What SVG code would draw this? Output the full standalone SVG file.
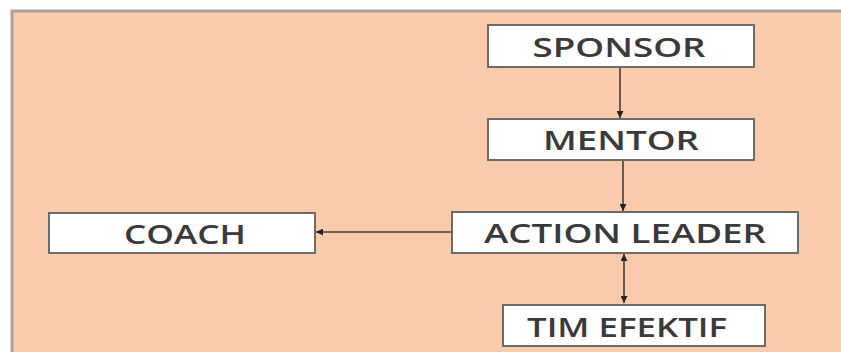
<svg xmlns="http://www.w3.org/2000/svg" width="841" height="352" viewBox="0 0 841 352">
  <style>
    .box { fill: #ffffff; stroke: #6e6a68; stroke-width: 2; }
    .label { font-family: "Open Sans", "Liberation Sans", sans-serif; font-weight: 600; font-size: 27px; fill: #3a3a3c; text-anchor: middle; dominant-baseline: central; }
    .link { stroke: #4a3a34; stroke-width: 1.6; fill: none; }
  </style>
  <defs>
    <marker id="head" viewBox="0 0 10 10" refX="10" refY="5" markerWidth="7" markerHeight="7" markerUnits="userSpaceOnUse" orient="auto-start-reverse">
      <path d="M0,0 L10,5 L0,10 Z" fill="#2a2220"/>
    </marker>
  </defs>

  <!-- panel -->
  <rect x="0" y="0" width="841" height="352" fill="#ffffff"/>
  <rect x="12" y="11" width="835" height="346" fill="#f7cbac" stroke="#a8a29f" stroke-width="3"/>

  <g id="connectors">
    <line class="link" x1="620" y1="67" x2="620" y2="118" marker-end="url(#head)"/>
    <line class="link" x1="623" y1="160" x2="623" y2="211" marker-end="url(#head)"/>
    <line class="link" x1="452" y1="232" x2="316" y2="232" marker-end="url(#head)"/>
    <line class="link" x1="624" y1="254" x2="624" y2="303" marker-start="url(#head)" marker-end="url(#head)"/>
  </g>

  <g id="sponsor">
    <rect class="box" x="488" y="25" width="266" height="42"/>
    <text class="label" x="619" y="46" textLength="173" lengthAdjust="spacingAndGlyphs">SPONSOR</text>
  </g>
  <g id="mentor">
    <rect class="box" x="488" y="119" width="266" height="41"/>
    <text class="label" x="621" y="139" textLength="156" lengthAdjust="spacingAndGlyphs">MENTOR</text>
  </g>
  <g id="action-leader">
    <rect class="box" x="452" y="212" width="346" height="41"/>
    <text class="label" x="625" y="232" textLength="282" lengthAdjust="spacingAndGlyphs">ACTION LEADER</text>
  </g>
  <g id="coach">
    <rect class="box" x="49" y="213" width="266" height="40"/>
    <text class="label" x="185" y="233" textLength="122" lengthAdjust="spacingAndGlyphs">COACH</text>
  </g>
  <g id="tim-efektif">
    <rect class="box" x="503" y="305" width="262" height="41"/>
    <text class="label" x="627" y="326" textLength="200" lengthAdjust="spacingAndGlyphs">TIM EFEKTIF</text>
  </g>
</svg>
